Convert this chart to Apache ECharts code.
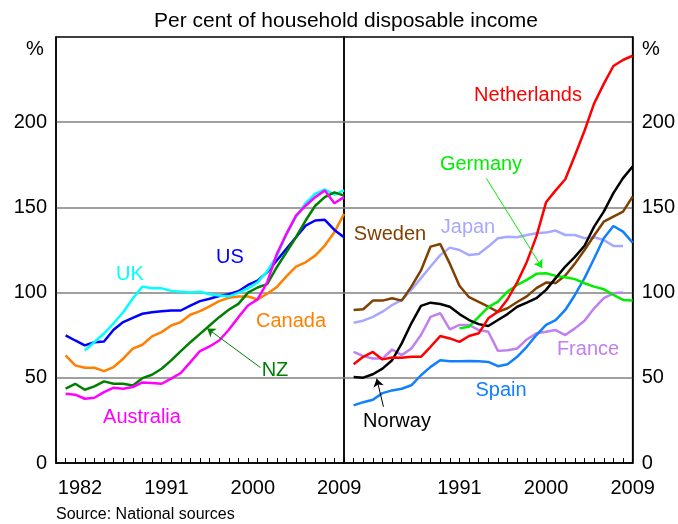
<!DOCTYPE html>
<html lang="en">
<head>
<meta charset="utf-8">
<title>Household debt</title>
<script src="https://cdn.jsdelivr.net/npm/echarts@6/dist/echarts.min.js"></script>
<style>
  html, body { margin: 0; padding: 0; background: #fff; }
  #chart { width: 678px; height: 524px; }
</style>
</head>
<body>
<div id="chart"></div>
<script>
// yearly observations, plotted at the end of each year
var years = [1980, 1981, 1982, 1983, 1984, 1985, 1986, 1987, 1988, 1989,
             1990, 1991, 1992, 1993, 1994, 1995, 1996, 1997, 1998, 1999,
             2000, 2001, 2002, 2003, 2004, 2005, 2006, 2007, 2008, 2009];

// left panel
var australia = [40.7, 40.1, 37.7, 38.3, 41.6, 44.2, 43.6, 44.6, 47.3, 46.9,
                 46.5, 49.5, 52.8, 59.2, 65.7, 68.4, 71.9, 78.2, 85.6, 92.4,
                 96, 106, 122.7, 134.5, 145.2, 151, 156, 159.9, 152.4, 156];
var nz = [43.6, 46.5, 43, 45, 47.9, 46.5, 46.5, 45.5, 49.8, 51.8,
          55.3, 60.2, 65.7, 70.9, 75.8, 80.7, 85.6, 89.9, 93.4, 100,
          103, 105, 114.9, 123.7, 132.5, 142.3, 151, 156, 158.8, 156.9];
var uk = [null, null, 66, 71, 76, 82, 88.5, 96.5, 103.5, 102.5,
          102.5, 101, 100.5, 100, 100.5, 99, 98.3, 97.8, 99.8, 102.5,
          106, 112.5, 121.5, 134, 144.5, 152.5, 158, 160.5, 157.5, 160];
var us = [74.9, 71.9, 69, 70.9, 71.3, 78.2, 82.7, 85.2, 87.6, 88.5,
          89.1, 89.5, 89.5, 92.4, 95, 96.4, 98, 99, 100.8, 104.5,
          107, 112, 118.8, 125.7, 132.5, 139.3, 142.3, 142.7, 136.8, 132.5];
var canada = [63.1, 57.3, 55.9, 55.9, 53.9, 56.3, 61.2, 67.1, 69.4, 74.3,
              76.8, 80.7, 82.7, 87, 89.1, 91.9, 95, 97, 97.7, 97.7,
              96, 99.3, 103.2, 109.5, 115.3, 117.8, 121.7, 127.6, 135.4, 146.2];

// right panel
var netherlands = [57.9, 62.3, 65.2, 60.8, 61.9, 61.7, 62.3, 62.3, 68.2, 74.5,
                   73.1, 71.1, 74.5, 76.1, 84.9, 88.8, 96.1, 106, 118, 133,
                   153, 160, 166.5, 180.5, 195, 211, 222.5, 233, 236.5, 239];
var germany = [null, null, null, null, null, null, null, null, null, null,
               null, 79, 80, 85.8, 91.5, 94.7, 100.6, 104.5, 107.5, 111,
               111.4, 109.8, 109, 107.9, 105.5, 103.5, 102, 98.6, 95.7, 95.3];
var japan = [82.3, 83.5, 85.8, 88.8, 92.7, 95.7, 101.6, 108.5, 115.3, 122,
             126.4, 125, 122, 122.6, 127, 131.9, 132.8, 132.5, 133.8, 134.8,
             135.2, 136.4, 133.8, 133.8, 131.9, 132.5, 130.9, 127.4, 127.4, null];
var sweden = [89.8, 90.2, 95.3, 95.3, 96.7, 95.3, 103.5, 113, 127, 128.5,
              117, 104, 97.3, 94.5, 91.7, 88.7, 90.8, 94.5, 97.8, 102.6,
              105.9, 105.7, 110, 117, 125, 133.5, 141.6, 144.6, 147.5, 156.3];
var norway = [50.5, 50.1, 52.1, 55.4, 60.3, 70.2, 82, 92.2, 94.1, 93.3,
              91.7, 87.4, 83.9, 81.5, 80.4, 83.9, 87.4, 91.7, 94.1, 96.7,
              101.6, 108.5, 115.3, 121, 127.5, 138.7, 147.5, 158.4, 167.2, 174];
var france = [65.2, 62.7, 61.3, 61.3, 66.6, 63.3, 67.2, 75.1, 85.8, 87.9,
              78.4, 81, 81, 78, 77, 65.8, 66.2, 67.2, 72.5, 76.1,
              77, 78, 75.1, 79, 83.5, 90.8, 96.7, 99.6, 100, null];
var spain = [33.8, 35.7, 37.1, 41, 42.6, 43.6, 45.6, 51.5, 56.4, 60.3,
             59.7, 59.7, 59.9, 59.7, 59.3, 56.8, 58, 62.3, 68.2, 75.1,
             81, 83.9, 89.8, 98.6, 108.5, 120, 131.9, 139.1, 135.8, 129.3];

var yTicks = [0, 50, 100, 150, 200];
var leftYearLabels = [1981.5, 1990.5, 1999.5, 2008.5];   // centred on the year
var rightYearLabels = [1991, 2000, 2009];

// arrows: [from, to] in [year, per cent]
var nzArrow = [[2000.3, 56], [1994.75, 79]];
var germanyArrow = [[1993.8, 167], [1999.6, 114.5]];
var norwayArrow = [[1983.1, 33], [1982.4, 49.5]];

var font = "'Liberation Sans', Arial, sans-serif";

var tickYears = [];
for (var t = 1979; t <= 2009; t++) tickYears.push(t);

function pairs(vals) {
    var out = [];
    for (var i = 0; i < years.length; i++) {
        if (vals[i] != null) out.push([years[i], vals[i]]);
    }
    return out;
}

function xAxis(idx, labels, fmt) {
    return {
        type: 'value', gridIndex: idx, min: 1979, max: 2009,
        axisLine: { show: true, onZero: false, lineStyle: { color: '#000', width: 1.5 } },
        axisTick: { show: true, inside: true, length: 5, customValues: tickYears,
                    lineStyle: { color: '#000', width: 1 } },
        axisLabel: { customValues: labels, formatter: fmt, color: '#000',
                     fontSize: 20, fontFamily: font, margin: 15 },
        splitLine: { show: false }
    };
}

function yAxis(idx, pos) {
    return {
        type: 'value', gridIndex: idx, min: 0, max: 250, interval: 50, position: pos,
        axisLine: { show: true, lineStyle: { color: '#000', width: 1.5 } },
        axisTick: { show: false },
        axisLabel: { customValues: yTicks, color: '#000', fontSize: 20,
                     fontFamily: font, margin: 9 },
        splitLine: { show: true, showMinLine: false, showMaxLine: false,
                     lineStyle: { color: '#808080', width: 1.5 } }
    };
}

function line(name, idx, vals, color, arrow) {
    var s = {
        name: name, type: 'line', xAxisIndex: idx, yAxisIndex: idx,
        data: pairs(vals), showSymbol: false, silent: true,
        lineStyle: { color: color, width: 2.5 }
    };
    if (arrow) {
        s.markLine = {
            silent: true, symbol: ['none', 'arrow'], symbolSize: 8,
            label: { show: false },
            lineStyle: { color: color, width: 1, type: 'solid' },
            data: [[{ coord: arrow[0] }, { coord: arrow[1] }]]
        };
    }
    return s;
}

function txt(text, x, y, color, size) {
    return {
        type: 'text', silent: true,
        style: { text: text, x: x, y: y, fill: color, font: (size || 20) + 'px ' + font,
                 textAlign: 'center', textVerticalAlign: 'middle' }
    };
}

var chart = echarts.init(document.getElementById('chart'));
chart.setOption({
    animation: false,
    grid: [
        { left: 56, top: 37, width: 288, height: 426, show: true,
          borderColor: '#000', borderWidth: 1.5, backgroundColor: 'transparent' },
        { left: 344, top: 37, width: 289, height: 426, show: true,
          borderColor: '#000', borderWidth: 1.5, backgroundColor: 'transparent' }
    ],
    xAxis: [
        xAxis(0, leftYearLabels, function (v) { return String(Math.ceil(v)); }),
        xAxis(1, rightYearLabels, function (v) { return String(v); })
    ],
    yAxis: [yAxis(0, 'left'), yAxis(1, 'right')],
    series: [
        line('Canada', 0, canada, '#ff8000'),
        line('US', 0, us, '#0000ff'),
        line('UK', 0, uk, '#00ffff'),
        line('NZ', 0, nz, '#008000', nzArrow),
        line('Australia', 0, australia, '#ff00ff'),
        line('Japan', 1, japan, '#a8a8ff'),
        line('France', 1, france, '#c080f0'),
        line('Spain', 1, spain, '#1080ff'),
        line('Sweden', 1, sweden, '#804000'),
        line('Germany', 1, germany, '#00ee00', germanyArrow),
        line('Norway', 1, norway, '#000000', norwayArrow),
        line('Netherlands', 1, netherlands, '#ff0000')
    ],
    graphic: [
        txt('Per cent of household disposable income', 346, 21, '#000', 21),
        txt('%', 35, 49, '#000'),
        txt('%', 651, 49, '#000'),
        txt('UK', 130, 274, '#00ffff'),
        txt('US', 230, 257, '#0000ff'),
        txt('Canada', 291, 321, '#ff8000'),
        txt('NZ', 275, 370, '#008000'),
        txt('Australia', 142, 417, '#ff00ff'),
        txt('Netherlands', 528, 95, '#ff0000'),
        txt('Germany', 481, 164, '#00ee00'),
        txt('Japan', 468, 227, '#a8a8ff'),
        txt('Sweden', 390, 234, '#804000'),
        txt('France', 588, 349, '#c080f0'),
        txt('Spain', 501, 390, '#1080ff'),
        txt('Norway', 397, 421, '#000'),
        { type: 'text', silent: true,
          style: { text: 'Source: National sources', x: 56, y: 515, fill: '#000',
                   font: '16px ' + font, textAlign: 'left', textVerticalAlign: 'middle' } }
    ]
});
</script>
</body>
</html>
